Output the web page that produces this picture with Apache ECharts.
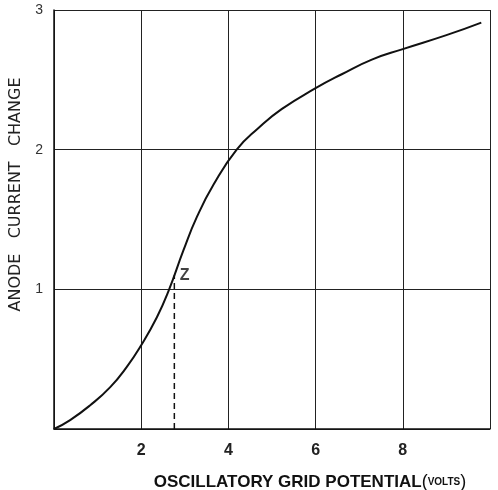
<!DOCTYPE html>
<html>
<head>
<meta charset="utf-8">
<script src="https://cdn.jsdelivr.net/npm/echarts@6/dist/echarts.min.js"></script>
<style>
html,body{margin:0;padding:0;background:#fff;}
#chart{width:498px;height:490px;}
</style>
</head>
<body>
<div id="chart"></div>
<script>
// Curve: anode current change vs oscillatory grid potential
var gridPotential = [0, 0.37, 0.83, 1.29, 1.67, 2.0, 2.36, 2.63, 2.97, 3.28, 3.66, 4.19, 4.69, 5.22, 6.0, 6.6, 7.29, 8.0, 9.0, 9.8];
var currentChange = [0, 0.064, 0.17, 0.30, 0.445, 0.6, 0.8, 0.99, 1.28, 1.52, 1.75, 2.0, 2.155, 2.29, 2.44, 2.54, 2.645, 2.72, 2.82, 2.91];
// Point Z and its dashed drop line
var pointZ = [2.76, 1.1];
var pointZLabel = 'Z';
// Axis texts
var xAxisTitle = 'OSCILLATORY GRID POTENTIAL';
var xAxisUnit = 'VOLTS';
var yAxisTitle = 'ANODE   CURRENT   CHANGE';
var xTicks = [2, 4, 6, 8];
var yTicks = [1, 2, 3];

var curveData = gridPotential.map(function (x, i) { return [x, currentChange[i]]; });

var chart = echarts.init(document.getElementById('chart'));
chart.setOption({
  backgroundColor: '#fff',
  animation: false,
  grid: { left: 54, right: 8, top: 10, bottom: 61, outerBoundsMode: 'none', containLabel: false },
  xAxis: {
    type: 'value', min: 0, max: 10, interval: 2,
    axisLine: { show: true, lineStyle: { color: '#111', width: 1.5 } },
    axisTick: { show: false },
    splitLine: { show: true, lineStyle: { color: '#222', width: 1 } },
    axisLabel: {
      margin: 14, fontSize: 16, fontWeight: 'bold', color: '#222',
      fontFamily: 'Liberation Sans',
      formatter: function (v) { return xTicks.indexOf(v) >= 0 ? String(v) : ''; }
    },
    name: '{a|' + xAxisTitle + '}{p|(}{b|' + xAxisUnit + '}{p|)}',
    nameLocation: 'middle',
    nameGap: 43,
    nameTextStyle: {
      padding: [0, 0, 0, 76],
      rich: {
        a: { fontSize: 17, fontWeight: 'bold', color: '#111', fontFamily: 'Liberation Sans', verticalAlign: 'middle', lineHeight: 20 },
        p: { fontSize: 18, color: '#111', fontFamily: 'Liberation Sans', verticalAlign: 'middle', lineHeight: 20 },
        b: { fontSize: 10, fontWeight: 'bold', color: '#111', fontFamily: 'Liberation Sans', verticalAlign: 'middle', lineHeight: 20 }
      }
    }
  },
  yAxis: {
    type: 'value', min: 0, max: 3, interval: 1,
    axisLine: { show: true, lineStyle: { color: '#111', width: 1.5 } },
    axisTick: { show: false },
    splitLine: { show: true, lineStyle: { color: '#222', width: 1 } },
    axisLabel: {
      margin: 11, fontSize: 14, color: '#333',
      fontFamily: 'Liberation Sans',
      formatter: function (v) { return yTicks.indexOf(v) >= 0 ? String(v) : ''; }
    },
    name: yAxisTitle,
    nameLocation: 'middle',
    nameGap: 22,
    nameTextStyle: {
      fontSize: 16, color: '#222', fontFamily: 'DejaVu Sans',
      padding: [0, 0, 0, 50]
    }
  },
  series: [
    {
      type: 'line', data: curveData, smooth: true, showSymbol: false,
      lineStyle: { color: '#111', width: 2 }, z: 5
    },
    {
      type: 'line', data: [[pointZ[0], 0], pointZ], showSymbol: false,
      lineStyle: { color: '#111', width: 1.5, type: [6, 4] }, z: 4
    },
    {
      type: 'scatter', data: [pointZ], symbolSize: 1,
      itemStyle: { color: 'transparent' },
      label: {
        show: true, position: 'right', distance: 5,
        formatter: pointZLabel, fontSize: 16, fontWeight: 'bold',
        color: '#111', fontFamily: 'Liberation Sans'
      }
    }
  ]
});
</script>
</body>
</html>
